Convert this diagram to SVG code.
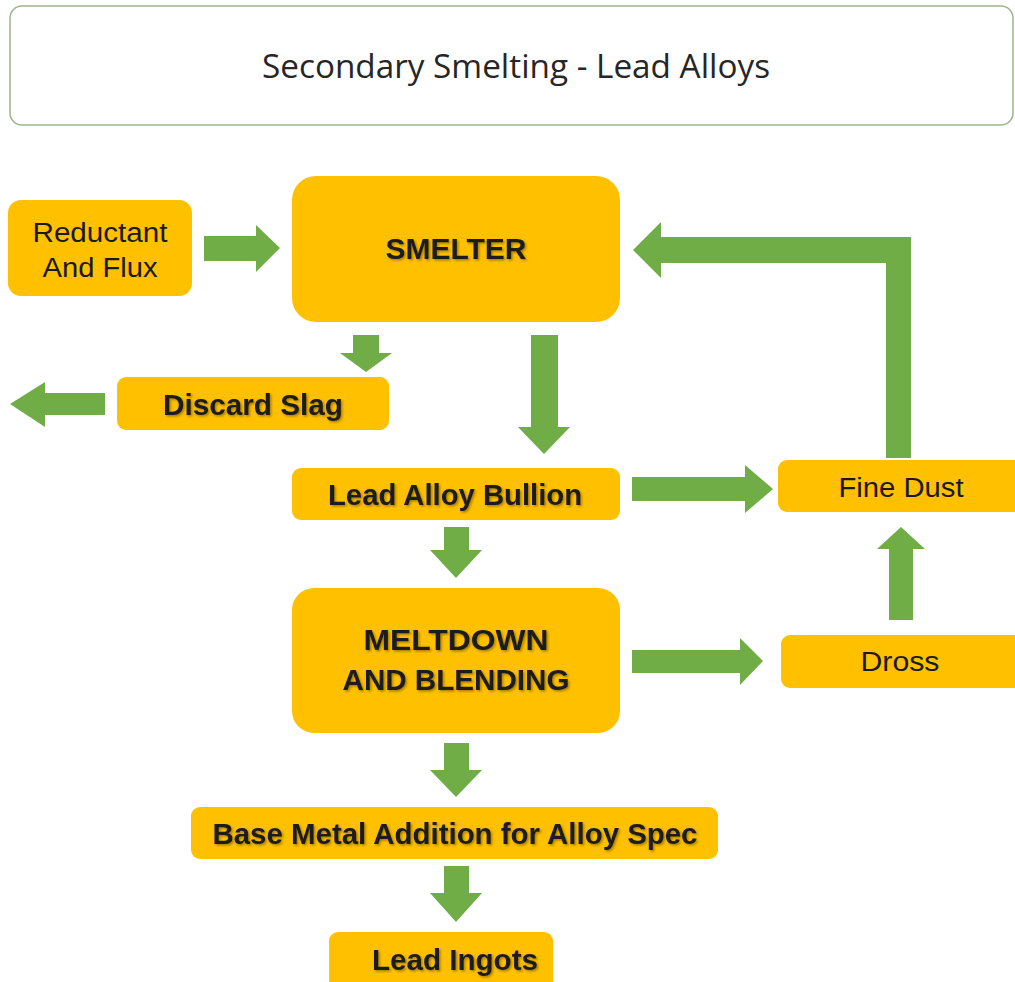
<svg xmlns="http://www.w3.org/2000/svg" width="1015" height="982" viewBox="0 0 1015 982">
  <defs>
    <filter id="shadow" x="-10%" y="-20%" width="120%" height="140%">
      <feDropShadow dx="1.5" dy="1.5" stdDeviation="0.8" flood-color="#000" flood-opacity="0.35"/>
    </filter>
  </defs>
  <style>
    .box { fill: #FFC000; }
    .arrow { fill: #70AD47; }
    .lbl { font-family: "Liberation Sans", Arial, sans-serif; font-size: 27px; fill: #1a1a1a; text-anchor: middle; }
    .bold { font-weight: bold; font-size: 29px; filter: url(#shadow); }
    .title { font-family: "Open Sans", "Liberation Sans", sans-serif; font-size: 33px; fill: #262626; text-anchor: middle; }
  </style>
  <rect width="1015" height="982" fill="#ffffff"/>

  <g id="title">
    <rect x="10" y="6" width="1003" height="119" rx="12" fill="#ffffff" stroke="#9DB58A" stroke-width="1.5"/>
    <text class="title" x="516" y="78" textLength="508" lengthAdjust="spacingAndGlyphs">Secondary Smelting - Lead Alloys</text>
  </g>

  <g id="connectors">
    <!-- reductant into smelter -->
    <polygon class="arrow" points="204,236 256,236 256,225 280,248 256,272 256,261 204,261"/>
    <!-- smelter to slag -->
    <polygon class="arrow" points="353,335 379,335 379,353 392,353 366,372 340,353 353,353"/>
    <!-- slag discarded to the left -->
    <polygon class="arrow" points="105,393 45,393 45,382 10,404 45,427 45,415 105,415"/>
    <!-- smelter to bullion -->
    <polygon class="arrow" points="531,335 558,335 558,427 570,427 544,454 518,427 531,427"/>
    <!-- bullion to fine dust -->
    <polygon class="arrow" points="632,477 745,477 745,465 773,489 745,513 745,501 632,501"/>
    <!-- bullion to meltdown -->
    <polygon class="arrow" points="444,527 469,527 469,550 482,550 456,578 430,550 444,550"/>
    <!-- meltdown to dross -->
    <polygon class="arrow" points="632,650 740,650 740,638 763,661 740,685 740,673 632,673"/>
    <!-- dross to fine dust -->
    <polygon class="arrow" points="889,620 913,620 913,549 925,549 901,527 877,549 889,549"/>
    <!-- fine dust recycled back to smelter -->
    <polygon class="arrow" points="886,458 911,458 911,237 661,237 661,222 633,250 661,278 661,263 886,263"/>
    <!-- meltdown to base metal addition -->
    <polygon class="arrow" points="444,743 469,743 469,770 482,770 456,797 430,770 444,770"/>
    <!-- base metal addition to ingots -->
    <polygon class="arrow" points="444,866 469,866 469,893 482,893 456,922 430,893 444,893"/>
  </g>

  <g id="reductant">
    <rect class="box" x="8" y="200" width="184" height="96" rx="13"/>
    <text class="lbl" x="100" y="242" textLength="135" lengthAdjust="spacingAndGlyphs">Reductant</text>
    <text class="lbl" x="100" y="277" textLength="115" lengthAdjust="spacingAndGlyphs">And Flux</text>
  </g>

  <g id="smelter">
    <rect class="box" x="292" y="176" width="328" height="146" rx="24"/>
    <text class="lbl bold" x="456" y="259" textLength="141" lengthAdjust="spacingAndGlyphs">SMELTER</text>
  </g>

  <g id="slag">
    <rect class="box" x="117" y="377" width="272" height="53" rx="9"/>
    <text class="lbl bold" x="253" y="415" textLength="180" lengthAdjust="spacingAndGlyphs">Discard Slag</text>
  </g>

  <g id="bullion">
    <rect class="box" x="292" y="468" width="328" height="52" rx="9"/>
    <text class="lbl bold" x="455" y="505" textLength="254" lengthAdjust="spacingAndGlyphs">Lead Alloy Bullion</text>
  </g>

  <g id="fine-dust">
    <rect class="box" x="778" y="460" width="250" height="52" rx="9"/>
    <text class="lbl" x="901" y="497" textLength="125" lengthAdjust="spacingAndGlyphs">Fine Dust</text>
  </g>

  <g id="meltdown">
    <rect class="box" x="292" y="588" width="328" height="145" rx="22"/>
    <text class="lbl bold" x="456" y="650" textLength="185" lengthAdjust="spacingAndGlyphs">MELTDOWN</text>
    <text class="lbl bold" x="456" y="690" textLength="227" lengthAdjust="spacingAndGlyphs">AND BLENDING</text>
  </g>

  <g id="dross">
    <rect class="box" x="781" y="635" width="247" height="53" rx="9"/>
    <text class="lbl" x="900" y="671" textLength="79" lengthAdjust="spacingAndGlyphs">Dross</text>
  </g>

  <g id="base-metal">
    <rect class="box" x="191" y="807" width="527" height="52" rx="9"/>
    <text class="lbl bold" x="455" y="844" textLength="485" lengthAdjust="spacingAndGlyphs">Base Metal Addition for Alloy Spec</text>
  </g>

  <g id="ingots">
    <rect class="box" x="329" y="932" width="224" height="60" rx="9"/>
    <text class="lbl bold" x="455" y="970" textLength="166" lengthAdjust="spacingAndGlyphs">Lead Ingots</text>
  </g>
</svg>
